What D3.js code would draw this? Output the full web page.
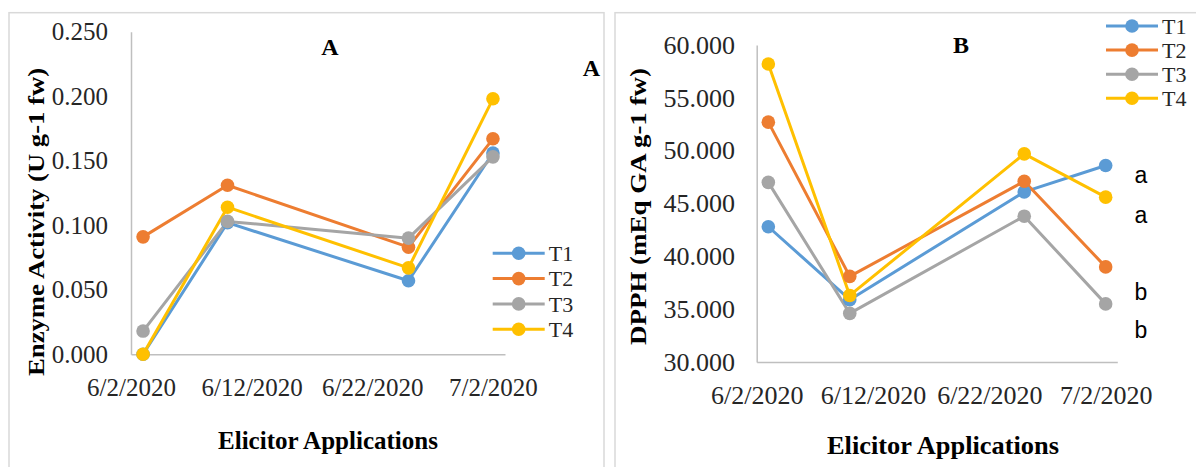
<!DOCTYPE html>
<html><head><meta charset="utf-8">
<script src="https://cdn.jsdelivr.net/npm/d3@7"></script>
<style>body{margin:0;background:#fff}svg{display:block}</style>
</head><body>
<svg id="c" width="1196" height="467"></svg>
<script>
// ---- data ----
const dates = ["6/3/2020","6/10/2020","6/25/2020","7/2/2020"];
const tickLabels = ["6/2/2020","6/12/2020","6/22/2020","7/2/2020"];
const seriesNames = ["T1","T2","T3","T4"];
const colors = ["#5B9BD5","#ED7D31","#A5A5A5","#FFC000"];
// Panel A: Enzyme activity
const enzT1 = [0.000, 0.102, 0.057, 0.156];
const enzT2 = [0.091, 0.131, 0.083, 0.167];
const enzT3 = [0.018, 0.103, 0.090, 0.153];
const enzT4 = [0.000, 0.114, 0.067, 0.198];
const enzTicks = [0, 0.05, 0.1, 0.15, 0.2, 0.25];
// Panel B: DPPH
const dpT1 = [42.8, 35.9, 46.1, 48.6];
const dpT2 = [52.7, 38.1, 47.1, 39.0];
const dpT3 = [47.0, 34.6, 43.8, 35.5];
const dpT4 = [58.2, 36.3, 49.7, 45.6];
const dpTicks = [30, 35, 40, 45, 50, 55, 60];
const letters = ["a","a","b","b"];

const parse = d3.utcParse("%m/%d/%Y");
const svg = d3.select("#c");
const serif = "'Liberation Serif','Times New Roman',serif";

// panel frames
svg.append("rect").attr("x",9).attr("y",12.7).attr("width",595).attr("height",470)
  .attr("fill","none").attr("stroke","#d9d9d9").attr("stroke-width",1.5);
svg.append("rect").attr("x",615).attr("y",12.7).attr("width",600).attr("height",470)
  .attr("fill","none").attr("stroke","#d9d9d9").attr("stroke-width",1.5);

function panel(cfg){
  const x = d3.scaleUtc().domain([parse("6/2/2020"), parse("7/3/2020")]).range([cfg.x0, cfg.x1]);
  const y = d3.scaleLinear().domain(cfg.ydom).range([cfg.yb, cfg.yt]);
  const g = svg.append("g");
  const ya = g.append("g").attr("transform",`translate(${cfg.x0},0)`)
    .call(d3.axisLeft(y).tickValues(cfg.yticks).tickSize(0).tickPadding(cfg.ypad).tickFormat(d3.format(".3f")));
  const xa = g.append("g").attr("transform",`translate(0,${cfg.yb})`)
    .call(d3.axisBottom(x).tickValues(tickLabels.map(parse)).tickSize(0).tickPadding(cfg.xpad).tickFormat(d3.utcFormat("%-m/%-d/%Y")));
  ya.select(".domain").attr("stroke","#bfbfbf").attr("stroke-width",1.5);
  xa.select(".domain").attr("stroke","#bfbfbf").attr("stroke-width",1.5);
  [ya,xa].forEach(a=>a.selectAll("text").attr("font-family",serif).attr("font-size",cfg.fs).attr("fill","#262626"));

  const line = d3.line().x((d,i)=>x(parse(dates[i]))).y(d=>y(d));
  cfg.series.forEach((s,k)=>{
    g.append("path").datum(s).attr("d",line).attr("fill","none")
      .attr("stroke",colors[k]).attr("stroke-width",3).attr("stroke-linejoin","round");
  });
  cfg.series.forEach((s,k)=>{
    g.selectAll(null).data(s).enter().append("circle")
      .attr("cx",(d,i)=>x(parse(dates[i]))).attr("cy",d=>y(d)).attr("r",6.8).attr("fill",colors[k]);
  });
  // legend
  seriesNames.forEach((n,k)=>{
    const ly = cfg.ly0 + k*cfg.lstep;
    g.append("line").attr("x1",cfg.lx).attr("x2",cfg.lx+52).attr("y1",ly).attr("y2",ly)
      .attr("stroke",colors[k]).attr("stroke-width",3);
    g.append("circle").attr("cx",cfg.lx+26).attr("cy",ly).attr("r",6.8).attr("fill",colors[k]);
    g.append("text").attr("x",cfg.lx+56).attr("y",ly).attr("dy","0.35em")
      .attr("font-family",serif).attr("font-size",22).attr("fill","#262626").text(n);
  });
  // titles
  g.append("text").attr("x",cfg.tx).attr("y",cfg.ty).attr("text-anchor","middle")
    .attr("font-family",serif).attr("font-weight","bold").attr("font-size",24).text(cfg.title);
  g.append("text").attr("transform",`translate(${cfg.ytx},${cfg.yty}) rotate(-90)`)
    .attr("text-anchor","middle").attr("dy","0.35em")
    .attr("font-family",serif).attr("font-weight","bold").attr("font-size",24)
    .attr("textLength",cfg.ytl).attr("lengthAdjust","spacingAndGlyphs").text(cfg.ylabel);
  g.append("text").attr("x",cfg.xtx).attr("y",cfg.xty).attr("text-anchor","middle").attr("dy","0.35em")
    .attr("font-family",serif).attr("font-weight","bold").attr("font-size",25)
    .attr("textLength",cfg.xtl).attr("lengthAdjust","spacingAndGlyphs").text("Elicitor Applications");
  return {x,y,g};
}

panel({x0:131,x1:505,yb:354.3,yt:31.7,ydom:[0,0.25],yticks:enzTicks,ypad:23,xpad:23.5,fs:25,
  series:[enzT1,enzT2,enzT3,enzT4],lx:492.7,ly0:253.3,lstep:25.3,
  title:"A",tx:330,ty:55,ylabel:"Enzyme Activity (U g-1 fw)",ytx:36,yty:222,ytl:308,
  xtx:328,xty:440,xtl:220});

const pB = panel({x0:756.7,x1:1117.3,yb:362,yt:45,ydom:[30,60],yticks:dpTicks,ypad:21.7,xpad:23.5,fs:26,
  series:[dpT1,dpT2,dpT3,dpT4],lx:1106,ly0:26,lstep:24.1,
  title:"B",tx:961,ty:53,ylabel:"DPPH (mEq GA g-1 fw)",ytx:637.5,yty:206.5,ytl:277,
  xtx:943,xty:445,xtl:232});

// extra "A" near panel border
svg.append("text").attr("x",600).attr("y",76).attr("text-anchor","end")
  .attr("font-family",serif).attr("font-weight","bold").attr("font-size",24).text("A");

// significance letters
const letterY = [183, 222.5, 300, 338];
letters.forEach((l,i)=>{
  svg.append("text").attr("x",1141).attr("y",letterY[i]).attr("text-anchor","middle")
    .attr("font-family","'Liberation Sans',Arial,sans-serif").attr("font-size",23).attr("fill","#000").text(l);
});
</script>
</body></html>
